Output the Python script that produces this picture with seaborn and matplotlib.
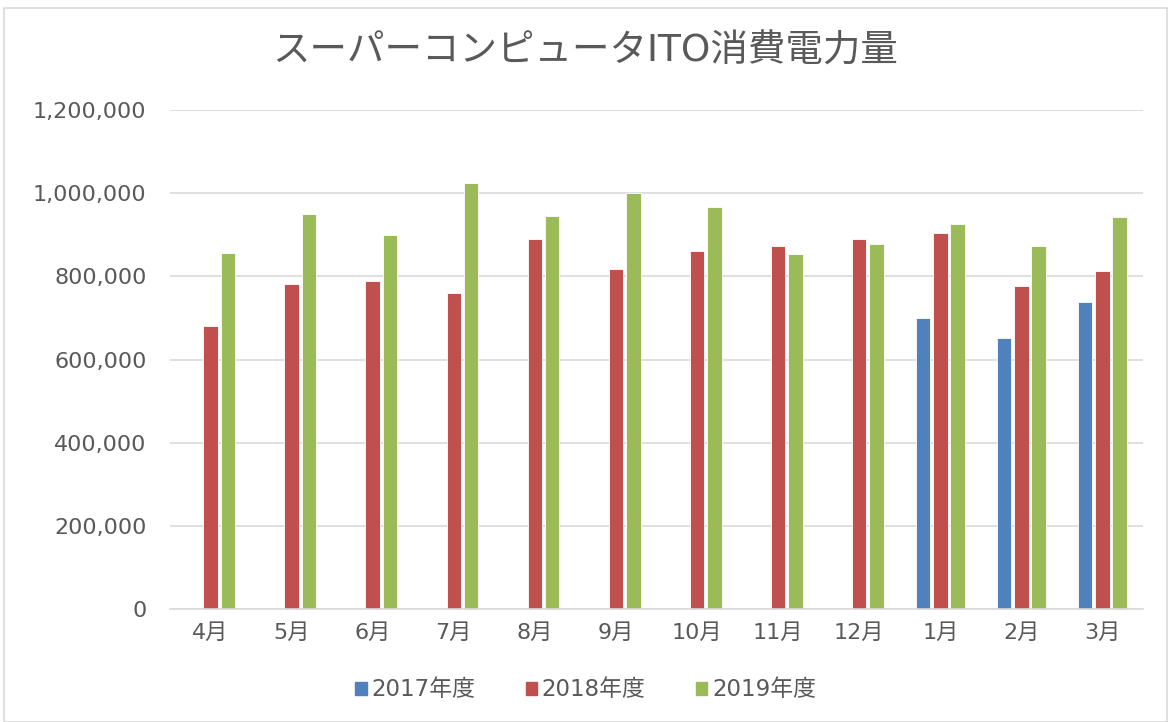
import matplotlib
matplotlib.use("Agg")
import matplotlib.pyplot as plt
import seaborn as sns
import pandas as pd
import numpy as np
from matplotlib.patches import Rectangle

months = ["4月", "5月", "6月", "7月", "8月", "9月", "10月", "11月", "12月", "1月", "2月", "3月"]
series_names = ["2017年度", "2018年度", "2019年度"]
v2017 = [np.nan, np.nan, np.nan, np.nan, np.nan, np.nan, np.nan, np.nan, np.nan, 701000, 651000, 739000]
v2018 = [680000, 782000, 790000, 759000, 889000, 817000, 862000, 872000, 890000, 904000, 778000, 814000]
v2019 = [856000, 951000, 900000, 1025000, 945000, 1000000, 968000, 854000, 877000, 926000, 872000, 944000]
colors = ["#4F81BD", "#C0504D", "#9BBB59"]

sns.set_theme(style="white")
plt.rcParams['font.family'] = ['DejaVu Sans', 'Noto Sans CJK JP']

rows = []
for name, vals in zip(series_names, [v2017, v2018, v2019]):
    for m, v in zip(months, vals):
        rows.append({"month": m, "year": name, "value": v})
df = pd.DataFrame(rows)

fig = plt.figure(figsize=(11.71, 7.22), dpi=100)
ax = fig.add_axes([170/1171, 1 - 609.3/722, (1143-170)/1171, (609.3-110)/722])

sns.barplot(data=df, x="month", y="value", hue="year", order=months,
            hue_order=series_names, palette=colors, saturation=1, width=0.64, gap=0.16,
            dodge=True, ax=ax, edgecolor="white", linewidth=0.6, legend=False)

txt = "#595959"
ax.set_ylim(0, 1200000)
yt = np.arange(0, 1200001, 200000)
ax.set_yticks(yt)
ax.set_yticklabels([f"{int(t):,}" for t in yt], fontsize=16, color=txt)
ax.tick_params(axis='x', labelsize=16, colors=txt, length=0, pad=10)
ax.tick_params(axis='y', length=0, pad=17)
ax.set_xlabel("")
ax.set_ylabel("")
ax.set_xlim(-0.5, 11.5)
ax.yaxis.grid(True, color="#D9D9D9", linewidth=1.2)
ax.set_axisbelow(True)
for s in ["left", "right", "top"]:
    ax.spines[s].set_visible(False)
ax.spines["bottom"].set_color("#D9D9D9")
ax.spines["bottom"].set_linewidth(1.2)

fig.text(0.5, 1 - 52/722, "スーパーコンピュータITO消費電力量", ha="center", va="center",
         fontsize=27, color=txt)

handles = [Rectangle((0, 0), 1, 1, color=c) for c in colors]
fig.legend(handles, series_names, loc="center", bbox_to_anchor=(0.5, 1 - 690/722),
           ncol=3, frameon=False, fontsize=16.5, handlelength=0.5, handleheight=0.5,
           handletextpad=0.2, columnspacing=2.2, labelcolor=txt)

fig.patches.append(Rectangle((4/1171, 0), 1 - 8/1171, 1 - 8/722, transform=fig.transFigure,
                             fill=False, edgecolor="#D9D9D9", linewidth=1.2))

fig.savefig("out.png", dpi=100)
